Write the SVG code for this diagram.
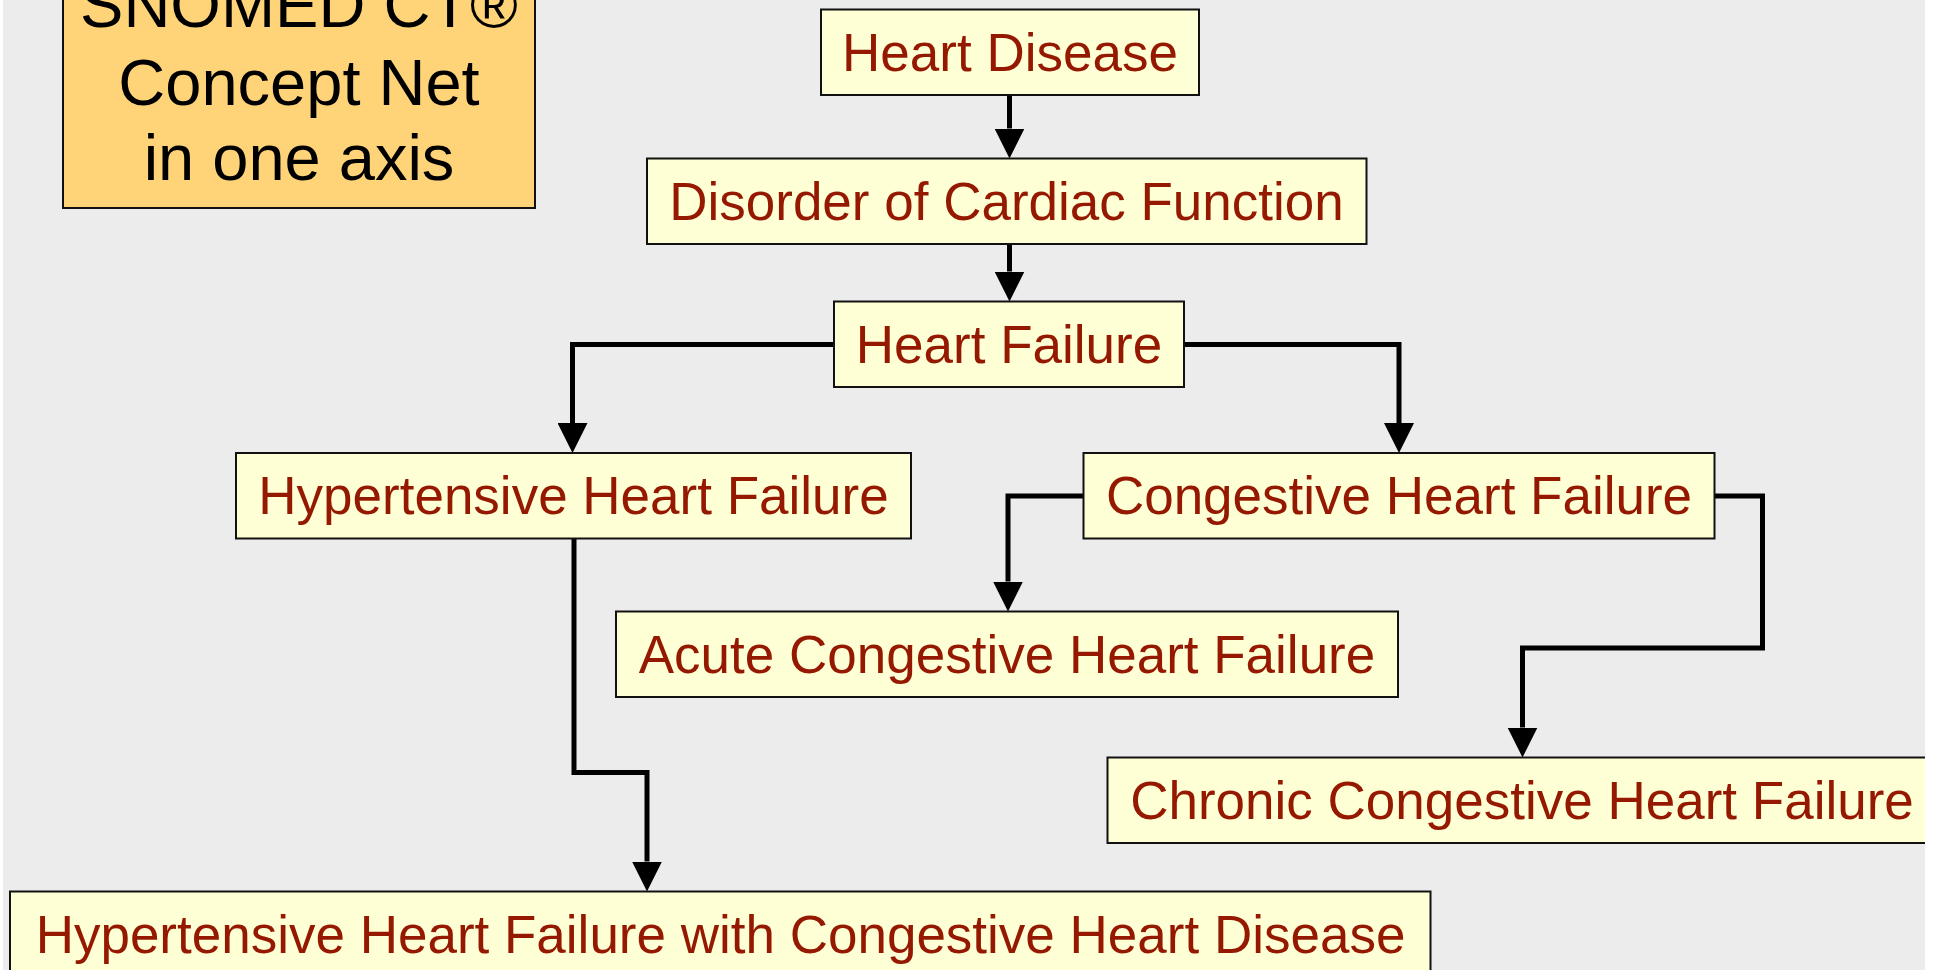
<svg xmlns="http://www.w3.org/2000/svg" width="1934" height="970" viewBox="0 0 1934 970">
  <defs>
    <style>
      .node rect { fill: #ffffd6; stroke: #111111; stroke-width: 2; }
      .node text { font-family: "Liberation Sans", Arial, sans-serif; font-size: 53px; fill: #951800; text-anchor: middle; }
      .title rect { fill: #ffd479; stroke: #111111; stroke-width: 2; }
      .title text { font-family: "Liberation Sans", Arial, sans-serif; font-size: 65px; fill: #000000; text-anchor: middle; }
      .conn { fill: none; stroke: #000000; stroke-width: 5; stroke-linejoin: miter; marker-end: url(#arrow); }
    </style>
    <marker id="arrow" viewBox="0 0 30 30" refX="0" refY="15" markerWidth="30" markerHeight="30" markerUnits="userSpaceOnUse" orient="auto">
      <path d="M0,0 L30,15 L0,30 Z" fill="#000000"/>
    </marker>
    <clipPath id="slide">
      <rect x="3" y="0" width="1922" height="970"/>
    </clipPath>
  </defs>
  <rect x="0" y="0" width="1934" height="970" fill="#ffffff"/>
  <g clip-path="url(#slide)">
    <rect x="3" y="0" width="1922" height="970" fill="#ececec"/>

    <g id="title" class="title">
      <rect x="63" y="-4" width="472" height="212"/>
      <text x="299" y="27">SNOMED CT®</text>
      <text x="299" y="105">Concept Net</text>
      <text x="299" y="180">in one axis</text>
    </g>

    <g id="connectors">
      <path class="conn" d="M1009.5,95 L1009.5,128.5"/>
      <path class="conn" d="M1009.5,244 L1009.5,271.5"/>
      <path class="conn" d="M834,344.5 L572.5,344.5 L572.5,423"/>
      <path class="conn" d="M1184,344.5 L1399,344.5 L1399,423"/>
      <path class="conn" d="M1083.5,496 L1008,496 L1008,581.5"/>
      <path class="conn" d="M1714.5,496 L1762.5,496 L1762.5,648 L1522.5,648 L1522.5,727.5"/>
      <path class="conn" d="M574,538.5 L574,772.5 L647,772.5 L647,861.5"/>
    </g>

    <g id="heart-disease" class="node">
      <rect x="821" y="9.5" width="378" height="85.5"/>
      <text x="1010" y="70.5">Heart Disease</text>
    </g>
    <g id="disorder-cardiac-function" class="node">
      <rect x="647" y="158.5" width="719.5" height="85.5"/>
      <text x="1006.5" y="219.5">Disorder of Cardiac Function</text>
    </g>
    <g id="heart-failure" class="node">
      <rect x="834" y="301.5" width="350" height="85.5"/>
      <text x="1009" y="362.5">Heart Failure</text>
    </g>
    <g id="hypertensive-heart-failure" class="node">
      <rect x="236" y="453" width="675" height="85.5"/>
      <text x="573.5" y="514">Hypertensive Heart Failure</text>
    </g>
    <g id="congestive-heart-failure" class="node">
      <rect x="1083.5" y="453" width="631" height="85.5"/>
      <text x="1399" y="514">Congestive Heart Failure</text>
    </g>
    <g id="acute-congestive-heart-failure" class="node">
      <rect x="616" y="611.5" width="782" height="85.5"/>
      <text x="1007" y="672.5">Acute Congestive Heart Failure</text>
    </g>
    <g id="chronic-congestive-heart-failure" class="node">
      <rect x="1107.5" y="757.5" width="829" height="85.5"/>
      <text x="1522" y="818.5">Chronic Congestive Heart Failure</text>
    </g>
    <g id="hypertensive-hf-congestive-hd" class="node">
      <rect x="10" y="891.5" width="1420.5" height="85.5"/>
      <text x="720.5" y="952.5">Hypertensive Heart Failure with Congestive Heart Disease</text>
    </g>
  </g>
</svg>
